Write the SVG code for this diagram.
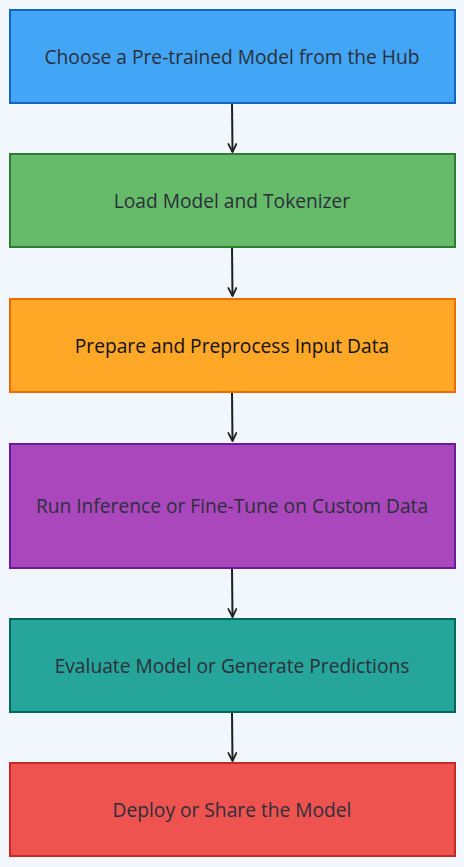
<svg xmlns="http://www.w3.org/2000/svg" width="464" height="867" viewBox="0 0 464 867">
<defs>
<marker id="arr" viewBox="0 0 10 10" refX="9" refY="5" markerWidth="10" markerHeight="10" markerUnits="userSpaceOnUse" orient="auto">
<path d="M1,1 L9,5 L1,9" fill="none" stroke="#1f1f1f" stroke-width="1.8" stroke-linecap="round" stroke-linejoin="round"/>
</marker>
<style>
.box{stroke-width:2}
.lbl{font-family:"Open Sans","Noto Sans",sans-serif;font-size:19.2px;fill:#2b2f3a;text-anchor:middle;dominant-baseline:central}
.edge{fill:none;stroke:#1f1f1f;stroke-width:2;marker-end:url(#arr)}
</style>
</defs>
<rect width="464" height="867" fill="#f2f7fe"/>
<g id="connectors">
<path class="edge" d="M232,103 L232.5,152"/>
<path class="edge" d="M232,247 L232.5,296"/>
<path class="edge" d="M232,392 L232.5,441"/>
<path class="edge" d="M232,568 L232.5,617"/>
<path class="edge" d="M232,712 L232.5,761"/>
</g>
<g id="node1">
<rect class="box" x="10" y="10" width="445" height="93" fill="#42a5f5" stroke="#1565c0"/>
<text class="lbl" x="232" y="56.5">Choose a Pre-trained Model from the Hub</text>
</g>
<g id="node2">
<rect class="box" x="10" y="154" width="445" height="93" fill="#66bb6a" stroke="#2e7d32"/>
<text class="lbl" x="232" y="200.5">Load Model and Tokenizer</text>
</g>
<g id="node3">
<rect class="box" x="10" y="299" width="445" height="93" fill="#ffa726" stroke="#ef6c00"/>
<text class="lbl" x="232" y="345.5" style="fill:#111">Prepare and Preprocess Input Data</text>
</g>
<g id="node4">
<rect class="box" x="10" y="444" width="445" height="124" fill="#ab47bc" stroke="#6a1b9a"/>
<text class="lbl" x="232" y="505.5">Run Inference or Fine-Tune on Custom Data</text>
</g>
<g id="node5">
<rect class="box" x="10" y="619" width="445" height="93" fill="#26a69a" stroke="#00695c"/>
<text class="lbl" x="232" y="665.5">Evaluate Model or Generate Predictions</text>
</g>
<g id="node6">
<rect class="box" x="10" y="763" width="445" height="93" fill="#ef5350" stroke="#c62828"/>
<text class="lbl" x="232" y="809.5">Deploy or Share the Model</text>
</g>
</svg>
